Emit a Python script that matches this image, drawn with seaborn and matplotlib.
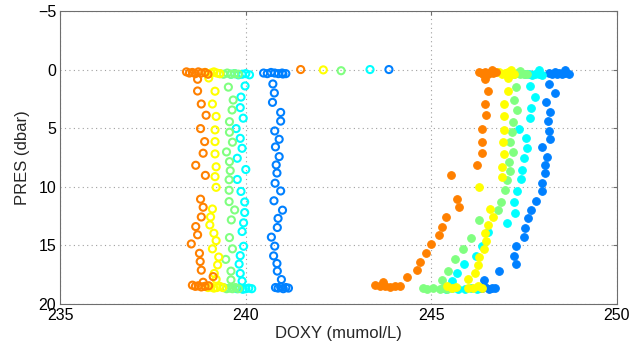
import matplotlib
matplotlib.use("Agg")
import matplotlib.pyplot as plt
import seaborn as sns

# ---- profile data: pressure (dbar), raw DOXY (open) and adjusted DOXY (filled) ----
colors = ["#FF8000", "#FFFF00", "#80FF80", "#00FFFF", "#0080FF"]

pres_1 = [0.0, 0.2, 0.3, 0.25, 0.35, 0.2, 0.3, 0.25, 0.4,
          0.83, 1.83, 2.94, 3.9, 5.04, 6.15, 7.14, 8.17, 9.03, 11.06, 11.75,
          12.58, 13.4, 14.1, 14.88, 15.68, 16.38, 17.12, 17.67, 18.15,
          18.4, 18.5, 18.45, 18.55, 18.5, 18.45]
doxy_1 = [241.48, 238.40, 238.48, 238.56, 238.64, 238.72, 238.80, 238.90, 238.98,
          238.70, 238.70, 238.80, 238.93, 238.78, 238.89, 238.85, 238.65, 238.91, 238.78, 238.85,
          238.80, 238.65, 238.70, 238.53, 238.75, 238.77, 238.80, 239.12, 238.85,
          238.56, 238.64, 238.72, 238.80, 238.90, 239.00]
adj_1 = [246.64, 246.28, 246.36, 246.44, 246.52, 246.60, 246.68, 246.76, 246.41,
         246.44, 246.53, 246.44, 246.48, 246.37, 246.37, 246.37, 246.23, 245.53, 245.69, 245.74,
         245.40, 245.29, 245.20, 245.00, 244.85, 244.70, 244.61, 244.36, 243.70,
         243.49, 243.62, 243.75, 243.88, 244.02, 244.17]

pres_2 = [0.03, 0.25, 0.35, 0.3, 0.2, 0.3, 0.35,
          0.72, 1.85, 2.94, 4.0, 5.15, 6.15, 7.2, 8.3, 9.14, 10.05, 11.9,
          12.58, 13.26, 13.97, 14.6, 15.3, 16.0, 16.67, 17.4, 17.9,
          18.5, 18.6, 18.55, 18.65, 18.6, 18.5, 18.6]
doxy_2 = [242.09, 238.90, 238.98, 239.06, 239.14, 239.22, 239.30,
          239.00, 239.17, 239.10, 239.20, 239.17, 239.17, 239.17, 239.20, 239.17, 239.20, 239.10,
          239.05, 239.03, 239.14, 239.20, 239.10, 239.27, 239.24, 239.15, 239.20,
          238.90, 238.98, 239.06, 239.14, 239.22, 239.30, 239.38]
adj_2 = [247.15, 246.82, 246.90, 246.98, 247.06, 247.14, 247.22,
         247.06, 247.06, 246.97, 246.95, 246.97, 246.93, 246.97, 246.90, 246.90, 246.30, 246.59,
         246.68, 246.52, 246.45, 246.48, 246.43, 246.28, 246.25, 246.19, 246.00,
         245.42, 245.55, 245.68, 246.00, 246.12, 246.25, 246.37]

pres_3 = [0.1, 0.35, 0.4, 0.3, 0.4, 0.35, 0.4,
          1.5, 2.6, 3.45, 4.45, 5.35, 6.2, 7.03, 7.86, 8.63, 9.4, 10.3,
          11.27, 11.98, 12.83, 14.34, 15.3, 16.2, 17.2, 17.95,
          18.6, 18.7, 18.65, 18.7, 18.6, 18.7]
doxy_3 = [242.57, 239.30, 239.40, 239.50, 239.60, 239.70, 239.80,
          239.53, 239.66, 239.63, 239.56, 239.56, 239.64, 239.48, 239.56, 239.58, 239.55, 239.55,
          239.55, 239.70, 239.61, 239.56, 239.64, 239.46, 239.60, 239.60,
          239.40, 239.48, 239.56, 239.64, 239.72, 239.80]
adj_3 = [247.40, 247.13, 247.22, 247.31, 247.40, 247.49, 247.58,
         247.29, 247.24, 247.31, 247.20, 247.18, 247.13, 247.20, 247.09, 247.13, 247.05, 247.00,
         246.88, 246.79, 246.30, 246.07, 245.87, 245.63, 245.45, 245.30,
         244.78, 244.90, 245.05, 245.23, 245.33, 245.43]

pres_4 = [0.0, 0.4, 0.35, 0.45, 0.4, 0.35, 0.45,
          1.4, 2.35, 3.25, 4.15, 5.04, 5.87, 6.72, 7.57, 8.53, 9.38, 10.4,
          11.3, 12.2, 13.08, 13.82, 15.08, 15.88, 16.6, 17.4, 18.05,
          18.7, 18.65, 18.75, 18.7, 18.65, 18.7]
doxy_4 = [243.35, 239.60, 239.70, 239.80, 239.90, 240.00, 240.10,
          239.98, 239.87, 239.85, 239.93, 239.74, 239.85, 239.90, 239.77, 240.00, 239.77, 239.87,
          239.97, 239.97, 239.94, 239.90, 239.94, 239.85, 239.82, 239.85, 239.90,
          239.76, 239.84, 239.92, 240.00, 240.08, 240.16]
adj_4 = [247.90, 247.54, 247.63, 247.72, 247.81, 247.90, 247.99,
         247.67, 247.80, 247.70, 247.67, 247.38, 247.55, 247.58, 247.49, 247.46, 247.41, 247.31,
         247.24, 247.25, 247.04, 246.53, 246.37, 246.21, 245.89, 245.69, 245.56,
         245.39, 245.56, 245.73, 245.90, 246.06, 246.23]

pres_5 = [0.0, 0.3, 0.35, 0.25, 0.3, 0.35, 0.3, 0.35, 0.38,
          1.23, 2.0, 2.8, 3.66, 4.4, 5.24, 5.95, 6.6, 7.43, 8.14, 8.83, 9.7,
          10.36, 11.2, 12.0, 12.7, 13.48, 14.3, 15.07, 15.9, 16.55, 17.2, 17.92,
          18.6, 18.65, 18.55, 18.7, 18.6, 18.65]
doxy_5 = [243.86, 240.48, 240.58, 240.68, 240.78, 240.88, 240.98, 241.08, 241.00,
          240.73, 240.77, 240.72, 240.94, 240.94, 240.78, 240.90, 240.80, 240.90, 240.82, 240.84, 240.79,
          240.94, 240.76, 240.99, 240.87, 240.85, 240.69, 240.78, 240.75, 240.84, 240.85, 240.96,
          240.80, 240.87, 240.94, 241.01, 241.08, 241.15]
adj_5 = [248.60, 248.17, 248.26, 248.35, 248.44, 248.53, 248.62, 248.71, 248.40,
         248.18, 248.35, 248.10, 248.21, 248.14, 248.17, 248.21, 247.99, 248.12, 248.08, 248.08, 247.99,
         247.99, 247.83, 247.70, 247.61, 247.54, 247.50, 247.28, 247.22, 247.29, 246.82, 246.43,
         246.28, 246.37, 246.46, 246.55, 246.64, 246.73]

profiles = [(pres_1, doxy_1, adj_1), (pres_2, doxy_2, adj_2), (pres_3, doxy_3, adj_3),
            (pres_4, doxy_4, adj_4), (pres_5, doxy_5, adj_5)]

x_ticks = [235, 240, 245, 250]
y_ticks = [-5, 0, 5, 10, 15, 20]

# ---- style ----
sns.set_style("white")
plt.rcParams["font.family"] = ["Liberation Sans", "DejaVu Sans"]
plt.rcParams["xtick.direction"] = "in"
plt.rcParams["ytick.direction"] = "in"

fig = plt.figure(figsize=(6.33, 3.53), dpi=100)
ax = fig.add_axes([0.0954, 0.139, 0.8787, 0.830])

# draw from last profile to first so the warm colours sit on top
for (pres, doxy, adj), c in reversed(list(zip(profiles, colors))):
    sns.scatterplot(x=doxy, y=pres, ax=ax, marker="o", s=26,
                    facecolor="none", edgecolor=c, linewidth=1.5, zorder=3)
    sns.scatterplot(x=adj, y=pres, ax=ax, marker="o", s=30,
                    color=c, edgecolor=c, linewidth=0.8, zorder=3)

ax.set_xlim(235, 250)
ax.set_ylim(20, -5)
ax.set_xticks(x_ticks)
ax.set_yticks(y_ticks)
ax.grid(True, linestyle=(0, (1, 3)), color="#a0a0a0", linewidth=0.8)
ax.set_axisbelow(True)

for sp in ax.spines.values():
    sp.set_visible(True)
    sp.set_color("#6e6e6e")
    sp.set_linewidth(0.8)
ax.tick_params(axis="both", length=3, width=0.8, color="#6e6e6e",
               labelsize=11.5, labelcolor="black", pad=3, top=True, right=True)

ax.set_xlabel("DOXY (mumol/L)", fontsize=12, labelpad=2)
ax.set_ylabel("PRES (dbar)", fontsize=12, labelpad=6)

fig.savefig("out.png", dpi=100)
